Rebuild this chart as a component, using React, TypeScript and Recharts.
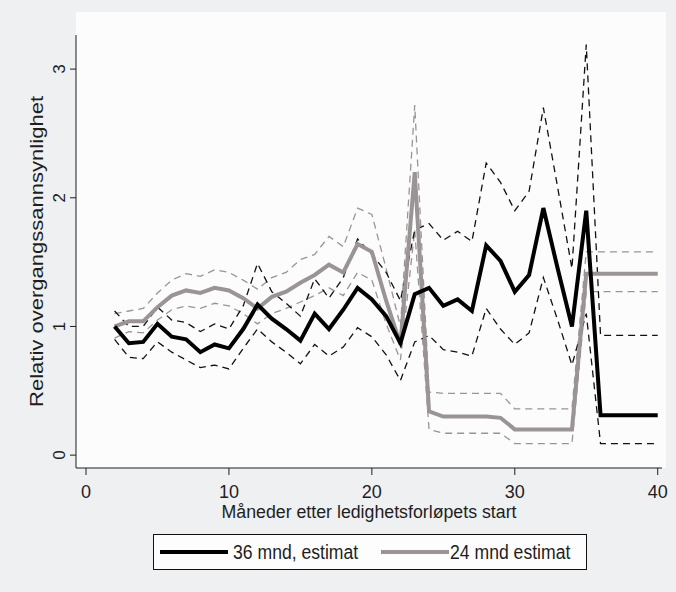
import { Line, LineChart, XAxis, YAxis } from "recharts";

const months = [
  2, 3, 4, 5, 6, 7, 8, 9, 10, 11, 12, 13, 14, 15, 16, 17, 18, 19, 20, 21,
  22, 23, 24, 25, 26, 27, 28, 29, 30, 31, 32, 33, 34, 35, 36, 37, 38, 39, 40,
];

// 36 mnd estimat med konfidensintervall
const est36 = [
  1.0, 0.87, 0.88, 1.02, 0.92, 0.9, 0.8, 0.86, 0.83, 0.98, 1.17, 1.06, 0.98,
  0.89, 1.1, 0.98, 1.13, 1.3, 1.21, 1.08, 0.87, 1.25, 1.3, 1.16, 1.21, 1.12,
  1.63, 1.51, 1.27, 1.4, 1.92, 1.45, 1.0, 1.9, 0.31, 0.31, 0.31, 0.31, 0.31,
];
const hi36 = [
  1.12, 1.0, 1.0, 1.15, 1.05, 1.03, 0.96, 1.02, 0.98, 1.16, 1.49, 1.27, 1.18,
  1.08, 1.37, 1.22, 1.38, 1.68, 1.56, 1.42, 1.2, 1.75, 1.8, 1.67, 1.74, 1.66,
  2.27, 2.12, 1.9, 2.05, 2.7, 2.08, 1.45, 3.19, 0.93, 0.93, 0.93, 0.93, 0.93,
];
const lo36 = [
  0.9, 0.76, 0.75, 0.88, 0.8, 0.74, 0.68, 0.7, 0.67, 0.83, 0.98, 0.88, 0.8,
  0.71, 0.86, 0.77, 0.84, 0.99, 0.92, 0.78, 0.58, 0.88, 0.93, 0.82, 0.8, 0.77,
  1.14, 0.98, 0.86, 0.95, 1.38, 1.05, 0.7, 1.1, 0.09, 0.09, 0.09, 0.09, 0.09,
];

// 24 mnd estimat med konfidensintervall
const est24 = [
  1.0, 1.04, 1.04, 1.15, 1.24, 1.28, 1.26, 1.3, 1.28, 1.22, 1.14, 1.23, 1.27,
  1.34, 1.4, 1.48, 1.42, 1.64, 1.58, 1.2, 0.86, 2.2, 0.34, 0.3, 0.3, 0.3, 0.3,
  0.29, 0.2, 0.2, 0.2, 0.2, 0.2, 1.41, 1.41, 1.41, 1.41, 1.41, 1.41,
];
const hi24 = [
  1.1, 1.12, 1.14, 1.26, 1.36, 1.41, 1.39, 1.44, 1.42, 1.36, 1.29, 1.38, 1.42,
  1.52, 1.56, 1.7, 1.62, 1.92, 1.87, 1.45, 1.0, 2.72, 0.49, 0.48, 0.48, 0.48,
  0.48, 0.48, 0.36, 0.36, 0.36, 0.36, 0.36, 1.58, 1.58, 1.58, 1.58, 1.58, 1.58,
];
const lo24 = [
  0.91, 0.96, 0.95, 1.05, 1.13, 1.16, 1.14, 1.18, 1.16, 1.1, 1.02, 1.1, 1.14,
  1.19, 1.24, 1.3, 1.24, 1.42, 1.36, 1.02, 0.74, 1.75, 0.2, 0.17, 0.17, 0.17,
  0.17, 0.17, 0.09, 0.09, 0.09, 0.09, 0.09, 1.27, 1.27, 1.27, 1.27, 1.27, 1.27,
];

const xTicks = [0, 10, 20, 30, 40];
const yTicks = [0, 1, 2, 3];

const data = months.map((m, i) => ({
  m,
  est36: est36[i],
  hi36: hi36[i],
  lo36: lo36[i],
  est24: est24[i],
  hi24: hi24[i],
  lo24: lo24[i],
}));

const FONT = "'Liberation Sans', Arial, sans-serif";
const GRAY = "#9a9494";
const INK = "#1e1e1e";

const YTick = ({ x, y, payload }: any) => (
  <text
    x={x - 5}
    y={y}
    transform={`rotate(-90, ${x - 5}, ${y})`}
    textAnchor="middle"
    fontSize={17}
    fontFamily={FONT}
    fill={INK}
  >
    {payload.value}
  </text>
);

const XTitle = ({ viewBox }: any) => (
  <text
    x={viewBox.x + viewBox.width / 2}
    y={viewBox.y + 50}
    textAnchor="middle"
    fontSize={18}
    fontFamily={FONT}
    fill={INK}
    textLength={295}
    lengthAdjust="spacingAndGlyphs"
  >
    Måneder etter ledighetsforløpets start
  </text>
);

const YTitle = ({ viewBox }: any) => {
  const cx = viewBox.x + 37;
  const cy = viewBox.y + viewBox.height / 2;
  return (
    <text
      x={cx}
      y={cy}
      transform={`rotate(-90, ${cx}, ${cy})`}
      textAnchor="middle"
      dominantBaseline="central"
      fontSize={18}
      fontFamily={FONT}
      fill={INK}
      textLength={311}
      lengthAdjust="spacingAndGlyphs"
    >
      Relativ overgangssannsynlighet
    </text>
  );
};

const legendText = {
  position: "absolute" as const,
  top: 6,
  lineHeight: "22px",
  display: "inline-block",
  transform: "scaleX(0.88)",
  transformOrigin: "left",
  whiteSpace: "nowrap" as const,
};

const LegendBox = () => (
  <div
    style={{
      position: "absolute",
      left: 153,
      top: 534,
      width: 434,
      height: 36,
      border: "1.5px solid #111",
      background: "#fdfdfd",
      fontFamily: FONT,
      fontSize: 20,
      color: INK,
      boxSizing: "border-box",
    }}
  >
    <span
      style={{
        position: "absolute",
        left: 6,
        top: 15,
        width: 68,
        height: 4,
        background: "#000",
      }}
    />
    <span style={{ ...legendText, left: 79 }}>36 mnd, estimat</span>
    <span
      style={{
        position: "absolute",
        left: 227,
        top: 15,
        width: 68,
        height: 4,
        background: GRAY,
      }}
    />
    <span style={{ ...legendText, left: 296 }}>24 mnd estimat</span>
  </div>
);

const App = () => {
  return (
    <div
      style={{
        position: "absolute",
        left: 0,
        top: 0,
        width: 676,
        height: 592,
        background: "#eef0f2",
      }}
    >
      <div
        style={{
          position: "absolute",
          left: 76,
          top: 12,
          width: 590,
          height: 456,
          background: "#fcfcfc",
        }}
      />
      <LineChart
        width={676}
        height={592}
        data={data}
        margin={{ top: 35, right: 14, bottom: 66, left: 0 }}
        style={{ position: "absolute", left: 0, top: 0 }}
      >
        <XAxis
          dataKey="m"
          type="number"
          domain={[-0.7, 40.3]}
          ticks={xTicks}
          allowDataOverflow
          height={58}
          tickSize={7}
          tickMargin={10}
          stroke={INK}
          tick={{ fill: INK, fontSize: 18, fontFamily: FONT }}
          label={<XTitle />}
        />
        <YAxis
          type="number"
          domain={[-0.1, 3.265]}
          ticks={yTicks}
          allowDataOverflow
          width={76}
          tickSize={6}
          tickMargin={0}
          stroke={INK}
          tick={<YTick />}
          label={<YTitle />}
        />
        <Line
          dataKey="hi24"
          stroke={GRAY}
          strokeWidth={1.3}
          strokeDasharray="7 5"
          dot={false}
          isAnimationActive={false}
        />
        <Line
          dataKey="lo24"
          stroke={GRAY}
          strokeWidth={1.3}
          strokeDasharray="7 5"
          dot={false}
          isAnimationActive={false}
        />
        <Line
          dataKey="hi36"
          stroke="#111"
          strokeWidth={1.3}
          strokeDasharray="7 5"
          dot={false}
          isAnimationActive={false}
        />
        <Line
          dataKey="lo36"
          stroke="#111"
          strokeWidth={1.3}
          strokeDasharray="7 5"
          dot={false}
          isAnimationActive={false}
        />
        <Line
          dataKey="est24"
          stroke={GRAY}
          strokeWidth={4}
          dot={false}
          isAnimationActive={false}
        />
        <Line
          dataKey="est36"
          stroke="#000"
          strokeWidth={4}
          dot={false}
          isAnimationActive={false}
        />
      </LineChart>
      <LegendBox />
    </div>
  );
};

export default App;
